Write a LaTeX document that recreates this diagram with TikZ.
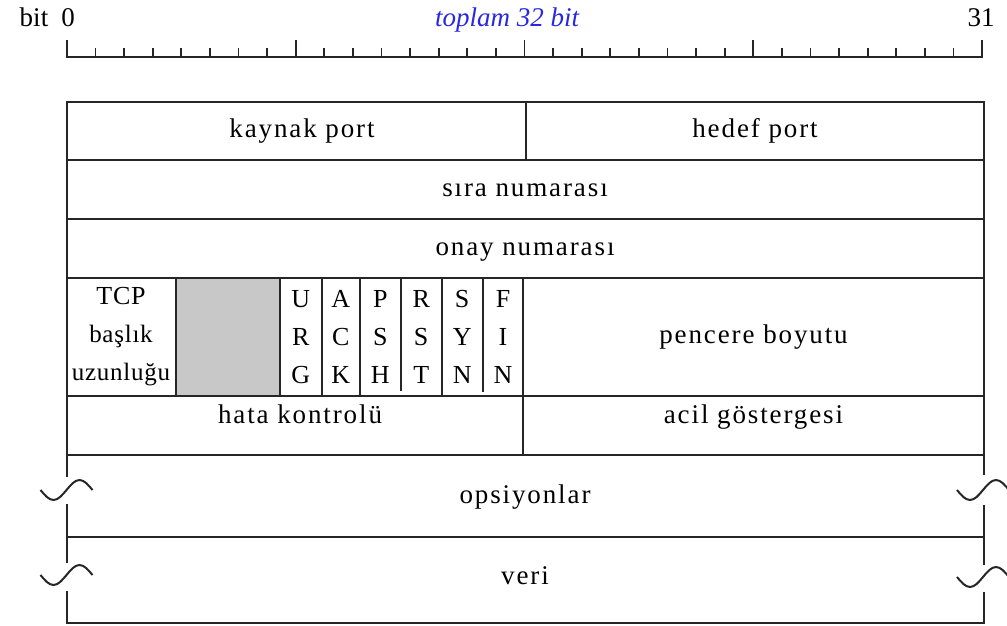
\documentclass[tikz,border=0pt]{standalone}
\usepackage{fontspec}
\setmainfont{Liberation Serif}
\newfontfamily\cellfont[LetterSpace=7]{Liberation Serif}
\newfontfamily\stackfont[LetterSpace=3]{Liberation Serif}
\definecolor{padgray}{RGB}{200,200,200}
\definecolor{totalblue}{RGB}{40,40,225}
\begin{document}
\begin{tikzpicture}[x=1pt,y=-1pt,
  rule/.style={line width=2pt, black!85},
  tick/.style={line width=1.8pt, black!85},
  cell/.style={inner sep=0pt, text height=18pt, text depth=6pt,
    font=\fontsize{27}{32}\cellfont},
  stack/.style={inner sep=0pt, align=center,
    font=\fontsize{26}{38}\stackfont},
  toplabel/.style={inner sep=0pt, anchor=base, font=\fontsize{27}{32}\selectfont},
  brk/.pic={\draw[line width=2pt, black!85]
     (-26,0) sin (-13,10) cos (0,0) sin (13,-10) cos (26,0);}
]
\useasboundingbox (0,0) rectangle (1007,626);

% ---- bit ruler ----
\node[toplabel] (bitlbl) at (34,27) {bit};
\node[toplabel] (zero) at (68,27) {0};
\node[toplabel] (last) at (981,27) {31};
\node[toplabel, text=totalblue, font=\fontsize{27}{32}\itshape] (total) at (507,27) {toplam 32 bit};
\coordinate (r0) at (67,57);
\coordinate (r1) at (982,57);
\draw[tick] (r0) -- (r1);
\foreach \i in {0,...,32}{
  \pgfmathsetmacro\tx{67+\i*28.594}
  \pgfmathtruncatemacro\md{mod(\i,8)}
  \ifnum\md=0
    \draw[tick] (\tx,57.9) -- (\tx,40);
  \else
    \draw[tick] (\tx,57.9) -- (\tx,48);
  \fi
}

% ---- header grid ----
\fill[padgray] (176,278.3) rectangle (280,396);
\foreach \y in {101.7,160,219.3,278.3,396,455,536.7,622.5}
  \draw[rule] (66.5,\y) -- (984,\y);
% outer sides, broken where the variable-length rows are
\draw[rule] (66.5,100.7) -- (66.5,477);
\draw[rule] (66.5,504) -- (66.5,563);
\draw[rule] (66.5,591) -- (66.5,623.5);
\draw[rule] (984,100.7) -- (984,475);
\draw[rule] (984,505) -- (984,565);
\draw[rule] (984,592) -- (984,623.5);
\pic at (66.5,490) {brk};
\pic at (66.5,575) {brk};
\pic at (983,490) {brk};
\pic at (983,577) {brk};
% inner separators
\draw[rule] (525.7,101.7) -- (525.7,160);
\draw[rule] (176,278.3) -- (176,396);
\draw[rule] (280,278.3) -- (280,396);
\draw[rule] (321.7,278.3) -- (321.7,396);
\draw[rule] (360,278.3) -- (360,396);
\draw[rule] (400.7,278.3) -- (400.7,391);
\draw[rule] (441.7,278.3) -- (441.7,396);
\draw[rule] (482.7,278.3) -- (482.7,392);
\draw[rule] (523.3,278.3) -- (523.3,455);

% ---- field names ----
\node[cell] (src) at (302,131) {kaynak port};
\node[cell] (dst) at (755,131) {hedef port};
\node[cell] (seq) at (525,190) {sıra numarası};
\node[cell] (ack) at (525,249) {onay numarası};
\node[stack] (hlen) at (121,337) {TCP\\{\fontsize{25}{38}\selectfont başlık}\\{\fontsize{25}{38}\selectfont uzunluğu}};
\node[stack] (furg) at (300.8,337) {U\\R\\G};
\node[stack] (fack) at (340.8,337) {A\\C\\K};
\node[stack] (fpsh) at (380.3,337) {P\\S\\H};
\node[stack] (frst) at (421.2,337) {R\\S\\T};
\node[stack] (fsyn) at (462.2,337) {S\\Y\\N};
\node[stack] (ffin) at (503,337) {F\\I\\N};
\node[cell] (win) at (753.5,337) {pencere boyutu};
\node[cell] (chk) at (300,417) {hata kontrolü};
\node[cell] (urg) at (753.5,417) {acil göstergesi};
\node[cell] (opt) at (525,497) {opsiyonlar};
\node[cell] (data) at (525,578) {veri};
\end{tikzpicture}
\end{document}
